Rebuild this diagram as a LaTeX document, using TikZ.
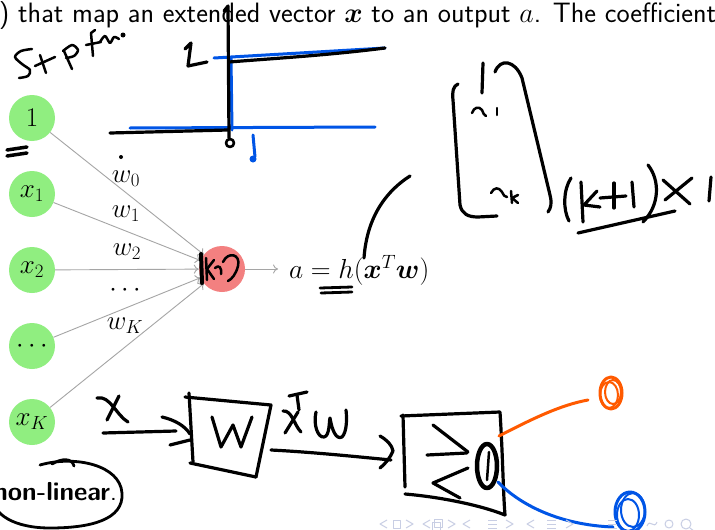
\RequirePackage{fix-cm}
\documentclass[tikz,border=0pt]{standalone}
\usepackage{bm}
\usetikzlibrary{arrows.meta}
\definecolor{nodegreen}{RGB}{144,238,128}
\definecolor{nodered}{RGB}{243,128,128}
\definecolor{inkblue}{RGB}{0,85,230}
\definecolor{inkorange}{RGB}{255,90,0}
\definecolor{navgray}{RGB}{200,206,228}
\definecolor{edgegray}{RGB}{165,165,165}
\begin{document}
\begin{tikzpicture}[x=1pt,y=-1pt,
  inp/.style={circle,fill=nodegreen,minimum size=46pt,inner sep=0pt,font=\fontsize{27}{30}\selectfont},
  neur/.style={circle,fill=nodered,minimum size=46pt,inner sep=0pt},
  edge/.style={edgegray,line width=0.9pt,-{To[length=5pt,width=9pt]}},
  wlab/.style={font=\fontsize{27}{30}\selectfont},
  ink/.style={black,line width=3.2pt,line cap=round,line join=round},
  thinink/.style={black,line width=2.5pt,line cap=round,line join=round},
  blueink/.style={inkblue,line width=3pt,line cap=round,line join=round},
  orangeink/.style={inkorange,line width=3pt,line cap=round,line join=round},
  nav/.style={navgray,line width=1pt,line join=round}]
\useasboundingbox (0,0) rectangle (715,530);
\fill[white] (0,0) rectangle (715,530);

% top text line
\node[anchor=base west,inner sep=0pt,font=\fontsize{28}{32}\selectfont\sffamily] (toptext) at (-1,22.5)
  {) that map an extended vector $\bm{x}$ to an output $a$. The coefficient};

% network
\node[inp] (n0) at (32,118) {$1$};
\node[inp] (n1) at (32,194) {$x_1$};
\node[inp] (n2) at (32,270) {$x_2$};
\node[inp] (n3) at (32,346) {$\cdots$};
\node[inp] (nK) at (32,422) {$x_K$};
\node[neur] (hn) at (222,269) {};
\draw[edge] (n0) -- (hn);
\draw[edge] (n1) -- (hn);
\draw[edge] (n2) -- (hn);
\draw[edge] (n3) -- (hn);
\draw[edge] (nK) -- (hn);
\node[wlab] (w0) at (126,179) {$w_0$};
\node[wlab] (w1) at (126,214) {$w_1$};
\node[wlab] (w2) at (127,252) {$w_2$};
\node[wlab] (wd) at (125,290) {$\cdots$};
\node[wlab] (wK) at (125,326) {$w_K$};
\coordinate (outend) at (278,269);
\draw[edge] (hn) -- (outend);
\node[anchor=base west,inner sep=0pt,font=\fontsize{27.5}{30}\selectfont] (eq) at (289,278) {$a = h\bigl(\bm{x}^T\bm{w}\bigr)$};

% hand: "step fn"
\draw[thinink] plot[smooth] coordinates {(32,49) (21,51) (15,57) (22,64) (30,70) (28,76) (19,78)};
\draw[thinink] (40,55) -- (46,73);
\draw[thinink] (35,66) -- (55,57);
\draw[thinink] (64,51) -- (72,69);
\draw[thinink] plot[smooth] coordinates {(63,51) (72,45) (78,50) (74,56) (66,58)};
\draw[thinink] (93,56) -- (91,33) -- (95,30);
\draw[thinink] (86,45) -- (101,42);
\draw[thinink] plot[smooth] coordinates {(100,42) (105,36) (110,43) (114,37) (119,39)};
\fill (123,35) circle[radius=2.5pt];

% step plot
\draw[blueink] (214,58) -- (300,53) -- (385,48);
\draw[blueink] (231,58) -- (232,130);
\draw[blueink] (130,128) -- (375,127);
\draw[ink] (229,62) .. controls (280,58) and (330,55) .. (385,48);
\draw[ink] (110,133) -- (228,130);
\draw[ink] (224,11) -- (228,6) -- (229,138);
\draw[ink,line width=2.6pt] (230,143) circle[radius=4pt];
\draw[blueink] (253,135) -- (255,157);
\fill[inkblue] (253,159) circle[radius=3.5pt];
\draw[ink] (185,49) -- (191,43) -- (188,66) -- (207,62);
\fill (121,157) circle[radius=2pt];

% "=" under the 1 node
\draw[ink,line width=3.5pt] (7,150) -- (27,147);
\draw[ink,line width=3.5pt] (7,156) -- (27,153);

% scribble in neuron
\draw[ink,line width=4pt] (201,254) -- (202,283);
\draw[thinink] (206,258) -- (207,280);
\draw[thinink] (214,260) -- (207,269) -- (214,279);
\draw[thinink] (215,268) .. controls (219,264) and (222,268) .. (221,274);
\draw[thinink] (223,262) .. controls (228,251) and (241,254) .. (238,266) .. controls (236,274) and (232,279) .. (228,281);

% double underline under h, arc
\draw[ink,line width=2.8pt] (320,288) -- (352,287);
\draw[ink,line width=2.8pt] (321,293) -- (352,292);
\draw[ink] (410,176) .. controls (388,190) and (367,215) .. (364,258);

% vector bracket
\draw[ink] (458,84) .. controls (453,86) and (452,92) .. (453,100) -- (460,205) .. controls (462,214) and (468,217) .. (478,217) -- (497,216);
\draw[ink] (483,63) -- (482,93);
\draw[thinink] (472,113) .. controls (474,107) and (479,106) .. (482,110) .. controls (483,113) and (484,115) .. (486,116);
\draw[thinink] (497,108) -- (497,115);
\draw[thinink] (491,193) .. controls (494,187) and (499,187) .. (502,192) .. controls (503,195) and (505,197) .. (507,197);
\draw[thinink] (511,191) -- (512,203);
\draw[thinink] (518,195) -- (512,198) -- (518,203);
\draw[ink] (495,72) .. controls (500,58) and (515,60) .. (522,78) -- (550,195) .. controls (552,203) and (551,208) .. (548,212);
% (k+1)X1
\draw[ink] (571,178) .. controls (563,190) and (563,210) .. (569,221);
\draw[ink] (581,182) -- (583,222);
\draw[ink] (597,191) -- (584,205) -- (600,207);
\draw[ink] (614,183) -- (614,208);
\draw[ink] (600,198) -- (626,196);
\draw[ink] (632,182) -- (634,207);
\draw[ink] (648,165) .. controls (660,180) and (660,205) .. (643,222);
\draw[ink] (663,180) -- (690,204);
\draw[ink] (692,178) -- (665,200);
\draw[ink] (711,177) -- (709,201);
\draw[ink] (578,233) -- (675,211);

% bottom block diagram
\draw[ink] (97,398) .. controls (110,395) and (116,415) .. (128,422);
\draw[ink] (119,396) -- (107,420);
\draw[ink] (103,433) -- (176,431);
\draw[ink] (162,417) .. controls (175,420) and (185,426) .. (190,434);
\draw[ink] (170,445) -- (190,440);
\draw[ink] (189,393) -- (193,462);
\draw[ink] (185,397) -- (271,405) -- (256,477);
\draw[ink] (190,463) -- (256,477);
\draw[ink] (212,417) -- (221,447) -- (233,425) -- (241,447) -- (252,417);
\draw[ink] (283,411) .. controls (292,410) and (294,425) .. (301,432);
\draw[ink] (298,412) -- (285,433);
\draw[ink] (297,395) -- (299,410);
\draw[ink] (289,396) -- (307,392);
\draw[ink] (316,412) .. controls (313,425) and (318,438) .. (324,437) .. controls (330,436) and (329,420) .. (330,418) .. controls (332,430) and (336,440) .. (342,437) .. controls (347,432) and (347,418) .. (346,410);
\draw[ink] (271,450) .. controls (310,452) and (350,456) .. (391,460);
\draw[ink] (380,436) .. controls (387,440) and (392,445) .. (393,451) .. controls (390,458) and (386,463) .. (380,468);
% box 2
\draw[ink] (403,415) -- (405,487);
\draw[ink] (401,416) -- (500,412) .. controls (503,460) and (503,490) .. (505,515);
\draw[ink] (405,494) .. controls (440,497) and (480,505) .. (505,515);
\draw[ink] (433,425) -- (468,452);
\draw[ink] (427,455) -- (467,453);
\draw[ink] (468,468) -- (433,483) -- (460,498);
\draw[ink,line width=4.5pt] (487,466) ellipse[x radius=10pt,y radius=22pt];
\draw[thinink] (489,452) -- (487,480);
% output branches
\draw[orangeink] (499,436) .. controls (530,420) and (560,405) .. (588,400);
\draw[orangeink] (611,393) ellipse[x radius=11pt,y radius=16pt];
\draw[orangeink,line width=2pt] (613,392) ellipse[x radius=8pt,y radius=12pt];
\draw[orangeink,line width=2pt] (609,395) ellipse[x radius=9pt,y radius=13pt];
\draw[blueink] (498,482) .. controls (520,505) and (560,525) .. (613,527);
\draw[blueink] (630,512) ellipse[x radius=15pt,y radius=20pt];
\draw[blueink,line width=2pt] (628,515) ellipse[x radius=11pt,y radius=16pt];
\draw[blueink,line width=2pt] (633,510) ellipse[x radius=12pt,y radius=17pt];

% non-linear bubble
\node[anchor=base east,inner sep=0pt,font=\fontsize{26}{30}\selectfont\sffamily] (nonlin) at (117,500) {\textbf{non-linear}.};
\draw[ink,line width=2.8pt] (52,464) .. controls (62,458) and (72,458) .. (74,466);
\draw[ink,line width=2.8pt] (40,465) .. controls (75,455) and (120,465) .. (122,493) .. controls (124,520) and (90,528) .. (50,528) .. controls (15,528) and (-8,515) .. (-8,495);

% navigation symbols
\foreach \xx in {380,423,463,527} {\draw[nav] (\xx+7,520) -- (\xx,524) -- (\xx+7,528);}
\foreach \xx in {413,455,513,573} {\draw[nav] (\xx-7,520) -- (\xx,524) -- (\xx-7,528);}
\draw[nav] (393,520) rectangle (400,528);
\draw[nav] (432,522) rectangle (440,530);
\draw[nav] (434,519) rectangle (442,527);
\foreach \xx in {488,547,608} {\draw[nav] (\xx,520) -- (\xx+9,520) (\xx,524) -- (\xx+9,524) (\xx,528) -- (\xx+9,528);}
\draw[nav] (647,526) .. controls (650,518) and (654,530) .. (657,522);
\draw[nav] (669,524) circle[radius=4pt];
\draw[nav] (686,524) circle[radius=5pt];
\draw[nav] (690,528) -- (694,531);
\end{tikzpicture}
\end{document}
